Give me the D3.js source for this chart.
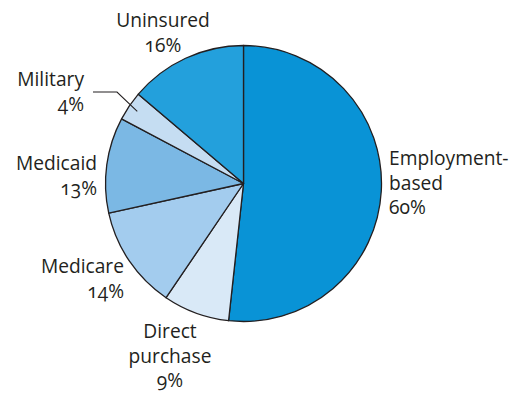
<!DOCTYPE html>
<html>
<head>
<meta charset="utf-8">
<script src="https://cdn.jsdelivr.net/npm/d3@7"></script>
<style>
  body { margin: 0; background: #fff; }
  text { font-family: "Open Sans", "Noto Sans", sans-serif; font-size: 19.2px; fill: #231f20; font-variant-numeric: oldstyle-nums; }
</style>
</head>
<body>
<div id="chart"></div>
<script>
// coverage categories, clockwise from 12 o'clock
const categories = ["Employment-based", "Direct purchase", "Medicare", "Medicaid", "Military", "Uninsured"];
const values = [60, 9, 14, 13, 4, 16];
const colors = ["#0993d6", "#d9e9f7", "#a3ccee", "#7bb8e4", "#c5ddf2", "#23a0dc"];

// label lines per slice, and where they sit
const labelLines = [
  ["Employment-", "based", "60%"],
  ["Direct", "purchase", "9%"],
  ["Medicare", "14%"],
  ["Medicaid", "13%"],
  ["Military", "4%"],
  ["Uninsured", "16%"]
];
const labelPos = [
  { x: 389, y: 165, anchor: "start" },
  { x: 170, y: 338, anchor: "middle" },
  { x: 124, y: 273, anchor: "end" },
  { x: 97, y: 170, anchor: "end" },
  { x: 84, y: 86, anchor: "end" },
  { x: 163, y: 27, anchor: "middle" }
];

let width = 513, height = 395;
let cx = 243.5, cy = 183.5, radius = 138;

let svg = d3.select("#chart").append("svg")
  .attr("width", width)
  .attr("height", height);

let pie = d3.pie().sort(null).value(d => d);
let arc = d3.arc().innerRadius(0).outerRadius(radius);

let g = svg.append("g").attr("transform", "translate(" + cx + "," + cy + ")");

g.selectAll("path")
  .data(pie(values))
  .enter()
  .append("path")
  .attr("d", arc)
  .attr("fill", (d, i) => colors[i])
  .attr("stroke", "#231f20")
  .attr("stroke-width", 1.3)
  .attr("stroke-linejoin", "round");

// leader line for the thin Military slice
let milArc = pie(values)[4];
let mid = (milArc.startAngle + milArc.endAngle) / 2;
let tip = [cx + Math.sin(mid) * radius * 0.93, cy - Math.cos(mid) * radius * 0.93];
svg.append("polyline")
  .attr("points", [[93, 92], [117, 92], tip].map(p => p.join(",")).join(" "))
  .attr("fill", "none")
  .attr("stroke", "#231f20")
  .attr("stroke-width", 1.1);

labelLines.forEach(function(lines, i) {
  let p = labelPos[i];
  let t = svg.append("text")
    .attr("x", p.x)
    .attr("y", p.y)
    .attr("text-anchor", p.anchor);
  lines.forEach(function(line, j) {
    t.append("tspan")
      .attr("x", p.x)
      .attr("dy", j == 0 ? 0 : 24.5)
      .text(line);
  });
});
</script>
</body>
</html>
